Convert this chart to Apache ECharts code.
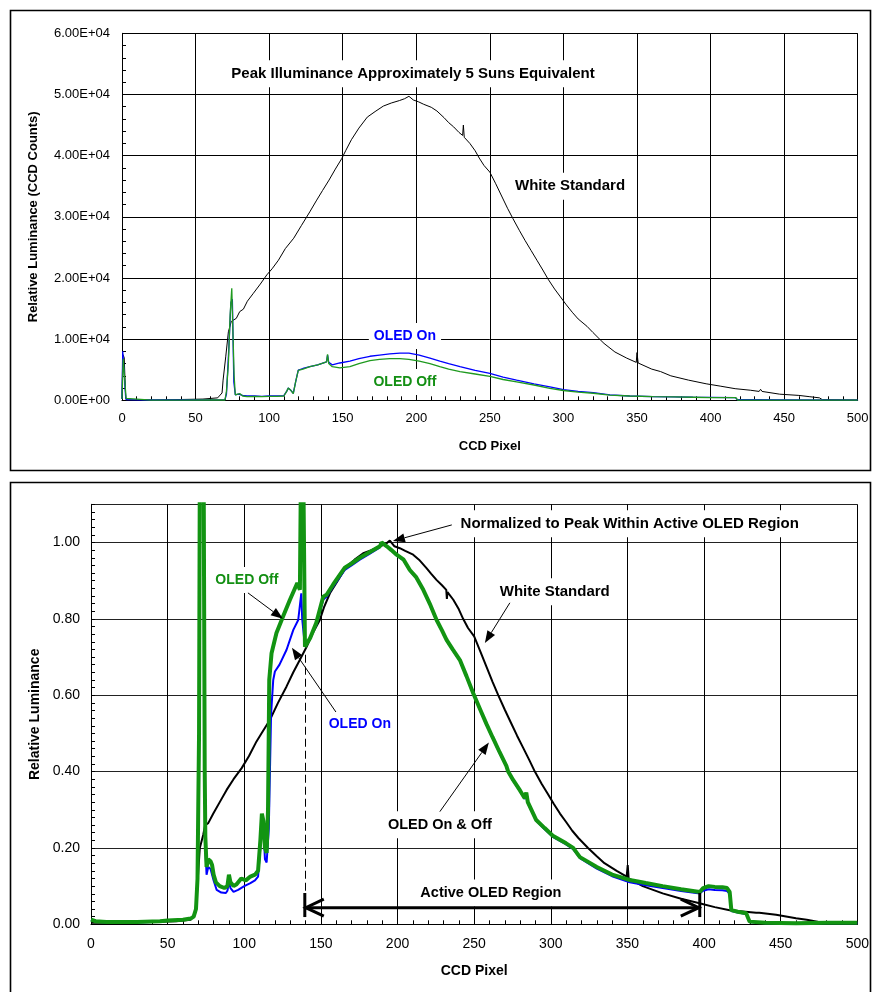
<!DOCTYPE html>
<html>
<head>
<meta charset="utf-8">
<title>CCD Pixel Luminance</title>
<script src="https://cdn.jsdelivr.net/npm/echarts@6/dist/echarts.min.js"></script>
<style>
  body { margin: 0; background: #fff; }
  #main { width: 872px; height: 992px; }
</style>
</head>
<body>
<div id="main"></div>
<script>
// ---- data: [CCD pixel, value] ----
// upper panel, raw CCD counts
var whiteTop = [[0,300],[0.5,7500],[1.5,7000],[2.5,400],[3,50],[23,50],[23.6,200],[55,200],[55.8,400],[65,400],[66,600],[68,1200],[68.7,3300],[70.5,7100],[72.3,11200],[74.3,12900],[77.7,13400],[80,14500],[82.5,14900],[85.2,16200],[89.3,17500],[94,19000],[98.4,20500],[102,21500],[106.3,22900],[111,24800],[116.7,26500],[122,28600],[127.6,30800],[132,32600],[136.3,34300],[140.7,36000],[145,37800],[149.3,39500],[152,40800],[155.9,42600],[161,44500],[166.7,46300],[172,47200],[177.6,48100],[183,48600],[188.5,49000],[192,49300],[195,49700],[198,49100],[201.5,48800],[205,48400],[210.2,47900],[214,47300],[218.9,46200],[222,45400],[225.4,44700],[229,43800],[231.5,43300],[232,45000],[232.6,43000],[236.4,42000],[240,40800],[242.8,39600],[246,38400],[250,37300],[254,35400],[258,33400],[262,31400],[265.7,29700],[270,27800],[274,26100],[278,24500],[282,22900],[286,21300],[289.6,19800],[294,18200],[298,16900],[302,15600],[306,14400],[310,13300],[316,12100],[320,11100],[325,9900],[327.6,9300],[335,7900],[343,6900],[349.5,6200],[350,7800],[350.8,6100],[360,5100],[366,4700],[373,4000],[385,3300],[397,2700],[407,2300],[416.7,1900],[427,1650],[433,1450],[434,1800],[435,1450],[447,1000],[460,800],[467,600],[474,400],[476,100],[500,50]];
var onTop = [[0,200],[0.5,8000],[1.5,8000],[2.5,500],[3,100],[20,50],[40,50],[60,80],[70,100],[71,1000],[72.5,8000],[74,16000],[75,16500],[76,3000],[77,900],[79,1000],[80,1150],[82,800],[85,700],[90,700],[95,650],[100,700],[105,700],[110,750],[112,1500],[113,2000],[114.5,1700],[116.4,1150],[118,3000],[119.8,4950],[123,5200],[127.7,5500],[133,5800],[139,6300],[139.7,7400],[140.5,6200],[142.9,5800],[148,6100],[154.9,6400],[161,6800],[168.5,7200],[175,7400],[182,7600],[188.9,7700],[195,7700],[202,7400],[209.3,6900],[216,6400],[222,6000],[229.7,5500],[240,4900],[250,4400],[259,3800],[268.2,3300],[280,2700],[290.8,2200],[300,1750],[310,1450],[320.3,1250],[331.6,900],[345,700],[361,600],[375,550],[388,500],[400,480],[417,450],[418,120],[430,100],[431,20],[500,20]];
var offTop = [[0,200],[0.8,6800],[1.8,6800],[2.8,300],[3.5,50],[20,40],[40,40],[60,50],[70,50],[71,1500],[72.3,6000],[73.5,14000],[74.6,18300],[75.4,18000],[76.2,4000],[77,900],[80,1100],[82,700],[85,600],[90,650],[95,600],[100,650],[105,650],[110,700],[112,1500],[113,2000],[114.5,1700],[116.4,1100],[118,3000],[119.8,4900],[123,5100],[127.7,5500],[133,5800],[139,6300],[139.7,7500],[140.5,6000],[142.9,5500],[148,5300],[154.9,5500],[161,6000],[168.5,6500],[175,6700],[182,6800],[188.9,6800],[195,6700],[202,6400],[209.3,6000],[216,5500],[222,5100],[229.7,4700],[240,4300],[250,3900],[259,3400],[268.2,3000],[280,2500],[290.8,1950],[300,1600],[310,1350],[320.3,1150],[331.6,850],[345,700],[361,600],[375,550],[388,500],[400,450],[417,450],[418.5,50],[500,30]];

// lower panel, normalized to the peak inside the active region
var whiteNorm = [[0,0.004],[20,0.004],[23.6,0.006],[40,0.006],[55.8,0.008],[65,0.012],[68,0.03],[69,0.07],[70,0.14],[71,0.2],[73.2,0.234],[74.5,0.26],[76.5,0.265],[79.8,0.29],[84,0.32],[88.5,0.352],[93,0.38],[98.3,0.409],[103,0.44],[108,0.479],[112,0.505],[116.7,0.535],[122,0.58],[127.6,0.623],[132,0.66],[136.3,0.693],[140.7,0.727],[145,0.765],[149.3,0.797],[152,0.83],[155.9,0.867],[161,0.9],[166.7,0.937],[172,0.955],[177.6,0.972],[183,0.98],[188.5,0.99],[192,0.995],[195,1.005],[198,0.99],[201.5,0.985],[205,0.978],[210.2,0.968],[214,0.955],[218.9,0.933],[222,0.918],[225.4,0.902],[229,0.888],[231.8,0.876],[232.2,0.852],[232.6,0.87],[236.4,0.85],[240,0.825],[242.8,0.8],[246,0.776],[250,0.754],[254,0.715],[258,0.675],[262,0.635],[265.7,0.6],[270,0.562],[274,0.528],[278,0.494],[282,0.462],[286,0.43],[289.6,0.4],[294,0.368],[298,0.342],[302,0.315],[306,0.29],[310,0.268],[314,0.245],[318,0.226],[324.3,0.2],[330,0.178],[335,0.16],[343,0.14],[349.5,0.125],[350.2,0.155],[350.8,0.12],[360,0.1],[373,0.081],[385,0.067],[397,0.055],[407,0.045],[416.7,0.037],[427,0.033],[434,0.03],[435,0.035],[436,0.03],[447,0.025],[460,0.016],[467,0.012],[474,0.007],[476,0.003],[500,0.003]];
var onNorm = [[0,0.012],[3,0.007],[10,0.005],[30,0.005],[45,0.007],[50,0.009],[60,0.011],[65,0.014],[67,0.019],[68.5,0.038],[69.5,0.11],[70.5,0.48],[71,1.2],[73.5,1.2],[74.2,0.38],[74.6,0.2],[75.4,0.13],[76.5,0.15],[78,0.145],[80,0.115],[82,0.09],[85,0.083],[88,0.082],[89,0.088],[90,0.11],[91,0.095],[93,0.085],[96,0.09],[100,0.1],[104,0.108],[107,0.115],[109,0.125],[110.5,0.2],[111.5,0.27],[112.5,0.25],[113.5,0.17],[114.6,0.162],[116,0.25],[117.5,0.55],[118.9,0.64],[120,0.662],[123,0.68],[127.6,0.719],[132,0.771],[135.2,0.797],[136.3,0.8],[137.2,0.867],[137.8,0.8],[139.6,0.727],[142.8,0.75],[147,0.783],[151.5,0.85],[153.7,0.858],[158,0.884],[165.6,0.928],[170,0.94],[175.4,0.955],[182,0.971],[188.5,0.987],[189.6,0.998],[193,0.99],[196,0.979],[199.4,0.966],[204,0.953],[208,0.926],[212,0.908],[216.8,0.874],[221,0.838],[225.5,0.795],[229,0.768],[232,0.743],[236,0.718],[240.7,0.69],[245,0.648],[249.4,0.603],[254,0.56],[258,0.523],[262,0.488],[266.7,0.448],[271,0.413],[272.2,0.398],[275.4,0.376],[280,0.348],[283,0.328],[284,0.342],[285,0.318],[290.5,0.271],[296,0.249],[301.3,0.229],[310,0.209],[314.6,0.197],[319,0.173],[330,0.146],[340,0.126],[351.5,0.11],[362,0.102],[373,0.095],[385,0.087],[396,0.081],[397.5,0.082],[399.4,0.088],[403,0.092],[407,0.09],[412,0.089],[415,0.087],[416.7,0.08],[417.8,0.035],[422,0.031],[427.5,0.027],[429.7,0.006],[440,0.003],[460,0.003],[480,0.003],[500,0.003]];
var offNorm = [[0,0.012],[3,0.008],[10,0.006],[30,0.006],[45,0.008],[50,0.01],[60,0.012],[65,0.015],[67,0.02],[68.5,0.04],[69.5,0.12],[70.5,0.5],[71,1.2],[73.5,1.2],[74.2,0.4],[74.6,0.23],[75.4,0.15],[76.5,0.17],[78,0.165],[79,0.155],[80,0.13],[81.5,0.11],[84,0.1],[87,0.095],[89,0.1],[90,0.13],[91,0.11],[93,0.1],[95,0.105],[98,0.12],[101,0.115],[104,0.125],[107,0.13],[109,0.14],[110.5,0.22],[111.5,0.29],[112.5,0.27],[113.5,0.2],[114.6,0.187],[115.5,0.3],[116.3,0.64],[117.8,0.71],[121,0.763],[125.3,0.806],[129.8,0.85],[134.6,0.894],[136.3,0.876],[137,1.2],[138.5,1.2],[139.6,0.727],[143,0.75],[147,0.79],[151.5,0.858],[153.7,0.863],[158,0.89],[165.6,0.934],[170,0.945],[175.4,0.96],[182,0.975],[188.5,0.99],[189.6,1.0],[193,0.99],[196,0.98],[199.4,0.968],[204,0.955],[208,0.928],[212,0.91],[216.8,0.876],[221,0.84],[225.5,0.797],[229,0.77],[232,0.745],[236,0.72],[240.7,0.692],[245,0.65],[249.4,0.605],[254,0.562],[258,0.525],[262,0.49],[266.7,0.45],[271,0.415],[272.2,0.4],[275.4,0.378],[280,0.35],[283,0.33],[284,0.345],[285,0.32],[290.5,0.273],[296,0.252],[301.3,0.232],[310,0.212],[314.6,0.2],[319,0.176],[330,0.15],[340,0.13],[351.5,0.116],[362,0.108],[373,0.1],[385,0.092],[396,0.085],[397.5,0.086],[399.4,0.095],[403,0.1],[407,0.098],[412,0.097],[415,0.095],[416.7,0.085],[417.8,0.037],[422,0.033],[427.5,0.029],[429.7,0.007],[440,0.004],[460,0.003],[480,0.004],[500,0.004]];

// annotations, placed in data coordinates
var topNotes = [
  {text: 'Peak Illuminance Approximately 5 Suns Equivalent', color: '#000', size: 15, at: [197.8, 53400]},
  {text: 'White Standard', color: '#000', size: 15, at: [304.5, 35000]},
  {text: 'OLED On', color: '#0000ff', size: 14, at: [192.3, 10500]},
  {text: 'OLED Off', color: '#138f13', size: 14, at: [192.3, 3000]}
];
var bottomNotes = [
  {text: 'Normalized to Peak Within Active OLED Region', color: '#000', size: 15, at: [351.5, 1.049]},
  {text: 'White Standard', color: '#000', size: 15, at: [302.6, 0.871]},
  {text: 'OLED Off', color: '#138f13', size: 14, at: [101.7, 0.902]},
  {text: 'OLED On', color: '#0000ff', size: 14, at: [175.4, 0.525]},
  {text: 'OLED On & Off', color: '#000', size: 14.5, at: [227.6, 0.261]},
  {text: 'Active OLED Region', color: '#000', size: 14.5, at: [260.9, 0.082]}
];
var bottomArrows = [
  {from: [235.4, 1.046], to: [197, 1.004]},
  {from: [273.3, 0.842], to: [257, 0.737]},
  {from: [102.4, 0.868], to: [125.2, 0.80]},
  {from: [159.8, 0.556], to: [131.1, 0.724]},
  {from: [227.6, 0.295], to: [259.6, 0.476]}
];
var activeStart = 139.5, activeEnd = 397.2, activeLevel = 0.0435;
var activeBar = [0.019, 0.082];
var dashedAt = 140, dashedRange = [0.706, 0.082];

var FONT = '"Liberation Sans", Arial, sans-serif';

function sci(v) {
  if (v === 0) return '0.00E+00';
  var e = Math.floor(Math.log10(Math.abs(v)) + 1e-9);
  var m = v / Math.pow(10, e);
  return m.toFixed(2) + 'E+' + (e < 10 ? '0' : '') + e;
}

function xAxisFor(grid, size, margin, gap) {
  return {
    gridIndex: grid, type: 'value', min: 0, max: 500, interval: 50,
    axisLine: {lineStyle: {color: '#000', width: 1}},
    axisTick: {show: true, inside: true, length: 4, lineStyle: {color: '#000'}},
    minorTick: {show: true, splitNumber: 5, length: 4, lineStyle: {color: '#000'}},
    axisLabel: {color: '#000', fontSize: size, fontFamily: FONT, margin: margin},
    splitLine: {show: true, lineStyle: {color: '#000', width: 1}},
    name: 'CCD Pixel', nameLocation: 'middle', nameGap: gap,
    nameTextStyle: {color: '#000', fontWeight: 'bold', fontSize: size, fontFamily: FONT}
  };
}

var chart = echarts.init(document.getElementById('main'));

var option = {
  animation: false,
  backgroundColor: '#fff',
  grid: [
    {left: 122, top: 33.3, width: 735.7, height: 367},
    {left: 91, top: 504.3, width: 766.7, height: 420}
  ],
  xAxis: [xAxisFor(0, 13, 12, 40), xAxisFor(1, 14, 13, 40)],
  yAxis: [
    {
      gridIndex: 0, type: 'value', min: 0, max: 60000, interval: 10000, position: 'left',
      axisLine: {lineStyle: {color: '#000'}},
      axisTick: {show: true, inside: true, length: 4, lineStyle: {color: '#000'}},
      minorTick: {show: true, splitNumber: 5, length: 4, lineStyle: {color: '#000'}},
      axisLabel: {color: '#000', fontSize: 13, fontFamily: FONT, margin: 12, formatter: sci},
      splitLine: {show: true, lineStyle: {color: '#000', width: 1}},
      name: 'Relative Luminance (CCD Counts)', nameLocation: 'middle', nameGap: 82,
      nameTextStyle: {color: '#000', fontWeight: 'bold', fontSize: 13, fontFamily: FONT}
    },
    {
      gridIndex: 1, type: 'value', min: 0, max: 1.1, interval: 0.2, position: 'left',
      axisLine: {lineStyle: {color: '#000'}},
      axisTick: {show: false},
      axisLabel: {color: '#000', fontSize: 14, fontFamily: FONT, margin: 11, showMaxLabel: false,
        formatter: function (v) { return v.toFixed(2); }},
      splitLine: {show: true, lineStyle: {color: '#222', width: 1}},
      name: 'Relative Luminance', nameLocation: 'middle', nameGap: 49,
      nameTextStyle: {color: '#000', fontWeight: 'bold', fontSize: 14, fontFamily: FONT}
    },
    {
      // only the fine ticks every 0.02
      gridIndex: 1, type: 'value', min: 0, max: 1.1, interval: 0.02, position: 'left',
      axisLine: {show: false},
      axisTick: {show: true, inside: true, length: 4, lineStyle: {color: '#000'}},
      axisLabel: {show: false},
      splitLine: {show: false}
    }
  ],
  series: [
    {type: 'line', xAxisIndex: 0, yAxisIndex: 0, data: whiteTop, showSymbol: false,
      lineStyle: {color: '#000', width: 1}, itemStyle: {color: '#000'}},
    {type: 'line', xAxisIndex: 0, yAxisIndex: 0, data: onTop, showSymbol: false,
      lineStyle: {color: '#0000ff', width: 1.3}, itemStyle: {color: '#0000ff'}},
    {type: 'line', xAxisIndex: 0, yAxisIndex: 0, data: offTop, showSymbol: false,
      lineStyle: {color: '#1f9a1f', width: 1.3}, itemStyle: {color: '#1f9a1f'}},
    {type: 'line', xAxisIndex: 1, yAxisIndex: 1, data: whiteNorm, showSymbol: false,
      lineStyle: {color: '#000', width: 2}, itemStyle: {color: '#000'},
      markLine: {
        silent: true, symbol: 'none', label: {show: false},
        lineStyle: {color: '#000', width: 1, type: [8, 4]},
        data: [[{coord: [dashedAt, dashedRange[0]]}, {coord: [dashedAt, dashedRange[1]]}]]
      }},
    {type: 'line', xAxisIndex: 1, yAxisIndex: 1, data: onNorm, showSymbol: false,
      lineStyle: {color: '#0000ff', width: 2}, itemStyle: {color: '#0000ff'}},
    {type: 'line', xAxisIndex: 1, yAxisIndex: 1, data: offNorm, showSymbol: false,
      lineStyle: {color: '#129412', width: 4}, itemStyle: {color: '#129412'}}
  ]
};
chart.setOption(option);

// ---- annotations drawn on top, positions taken from the axes ----
var graphics = [
  {type: 'rect', shape: {x: 10.5, y: 10.5, width: 860, height: 460}, style: {fill: 'none', stroke: '#000', lineWidth: 1.6}, z: 60},
  {type: 'rect', shape: {x: 10.5, y: 482.5, width: 860, height: 520}, style: {fill: 'none', stroke: '#000', lineWidth: 1.6}, z: 60}
];

function note(n, grid) {
  var p = chart.convertToPixel({gridIndex: grid}, n.at);
  graphics.push({
    type: 'text', x: p[0], y: p[1], z: 50,
    style: {text: n.text, fill: n.color, font: 'bold ' + n.size + 'px ' + FONT, align: 'center', verticalAlign: 'middle',
      backgroundColor: '#fff', padding: [6, 5]}
  });
}
topNotes.forEach(function (n) { note(n, 0); });
bottomNotes.forEach(function (n) { note(n, 1); });

bottomArrows.forEach(function (a) {
  var s = chart.convertToPixel({gridIndex: 1}, a.from);
  var t = chart.convertToPixel({gridIndex: 1}, a.to);
  var dx = t[0] - s[0], dy = t[1] - s[1];
  var len = Math.sqrt(dx * dx + dy * dy);
  var ux = dx / len, uy = dy / len;
  var hl = 12, hw = 4.5;
  var bx = t[0] - ux * hl, by = t[1] - uy * hl;
  graphics.push({type: 'line', z: 55, shape: {x1: s[0], y1: s[1], x2: bx, y2: by}, style: {stroke: '#000', lineWidth: 1}});
  graphics.push({type: 'polygon', z: 55, shape: {points: [[t[0], t[1]], [bx - uy * hw, by + ux * hw], [bx + uy * hw, by - ux * hw]]},
    style: {fill: '#000'}});
});

// the double arrow marking the active OLED region
var aL = chart.convertToPixel({gridIndex: 1}, [activeStart, activeLevel]);
var aR = chart.convertToPixel({gridIndex: 1}, [activeEnd, activeLevel]);
var bTop = chart.convertToPixel({gridIndex: 1}, [activeStart, activeBar[1]])[1];
var bBot = chart.convertToPixel({gridIndex: 1}, [activeStart, activeBar[0]])[1];
var thick = {stroke: '#000', lineWidth: 3};
graphics.push({type: 'line', z: 55, shape: {x1: aL[0], y1: aL[1], x2: aR[0], y2: aR[1]}, style: thick});
graphics.push({type: 'line', z: 55, shape: {x1: aL[0], y1: bTop, x2: aL[0], y2: bBot}, style: thick});
graphics.push({type: 'line', z: 55, shape: {x1: aR[0], y1: bTop, x2: aR[0], y2: bBot}, style: thick});
graphics.push({type: 'polyline', z: 55, shape: {points: [[aL[0] + 19, aL[1] - 8.5], [aL[0] + 1, aL[1]], [aL[0] + 19, aL[1] + 8.5]]}, style: thick});
graphics.push({type: 'polyline', z: 55, shape: {points: [[aR[0] - 19, aR[1] - 8.5], [aR[0] - 1, aR[1]], [aR[0] - 19, aR[1] + 8.5]]}, style: thick});

chart.setOption({graphic: graphics});
</script>
</body>
</html>
